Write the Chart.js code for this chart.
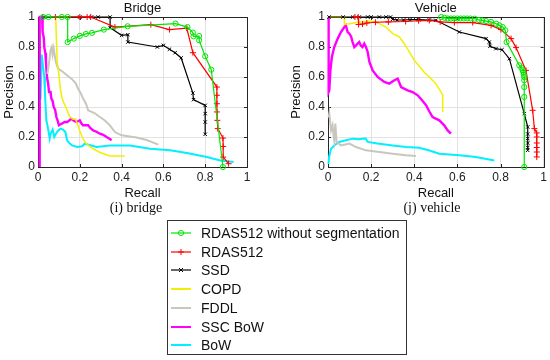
<!DOCTYPE html>
<html>
<head>
<meta charset="utf-8">
<script src="https://cdn.jsdelivr.net/npm/chart.js@4.4.1/dist/chart.umd.min.js"></script>
<style>
  body { margin: 0; background: #fff; }
  #wrap { position: relative; width: 550px; height: 360px; overflow: hidden; font-family: "Liberation Sans", Arial, sans-serif; }
  canvas { position: absolute; top: 0; }
  .cap { position: absolute; top: 199px; height: 18px; line-height: 18px; text-align: center;
         font-family: "Liberation Serif", "DejaVu Serif", serif; font-size: 14px; color: #111; }
  #legend { position: absolute; left: 167px; top: 220px; width: 238px; height: 133px; border: 1px solid #333; background: #fff; }
  .row { position: absolute; left: 0; height: 18px; width: 238px; }
  .row svg { position: absolute; left: 2px; top: 4px; }
  .row span { position: absolute; left: 33px; top: 0; line-height: 18px; font-size: 14px; color: #111; white-space: nowrap; }
</style>
</head>
<body>
<div id="wrap">
  <canvas id="bridge" width="285" height="201" style="left:0px"></canvas>
  <canvas id="vehicle" width="263" height="201" style="left:287px"></canvas>
  <div class="cap" style="left:76px;width:120px">(i) bridge</div>
  <div class="cap" style="left:372px;width:120px">(j) vehicle</div>
  <div id="legend"></div>
</div>
<script>
// tick labels, shared by both panels
const tickLabels = ['0', '0.2', '0.4', '0.6', '0.8', '1'];

const seriesNames = ['RDAS512 without segmentation', 'RDAS512', 'SSD', 'COPD', 'FDDL', 'SSC BoW', 'BoW'];

// ---- Bridge: [recall, precision] ----
const bridgeRdasNoSeg = [[0.024,1],[0.05,1],[0.114,1],[0.142,1],[0.142,0.833],[0.171,0.856],[0.2,0.874],[0.229,0.887],[0.258,0.894],[0.315,0.916],[0.429,0.938],[0.658,0.956],[0.715,0.933],[0.741,0.896],[0.744,0.871],[0.771,0.873],[0.771,0.845],[0.8,0.738],[0.829,0.649],[0.885,0.0]];
const bridgeRdas = [[0.083,1],[0.2,1],[0.235,1],[0.252,1],[0.368,0.933],[0.54,0.949],[0.629,0.916],[0.712,0.925],[0.741,0.762],[0.856,0.533],[0.856,0.478],[0.856,0.422],[0.856,0.367],[0.858,0.311],[0.86,0.256],[0.885,0.193],[0.886,0.137],[0.886,0.066],[0.912,0.022]];
const bridgeSsd = [[0.03,1],[0.2,1],[0.256,1],[0.288,1],[0.345,1],[0.345,0.929],[0.4,0.878],[0.43,0.882],[0.43,0.833],[0.571,0.8],[0.6,0.811],[0.629,0.785],[0.656,0.762],[0.685,0.727],[0.741,0.493],[0.744,0.449],[0.8,0.411],[0.8,0.356],[0.8,0.3],[0.8,0.218]];
const bridgeCopd = [[0.085,1],[0.088,0.85],[0.092,0.7],[0.1,0.62],[0.107,0.52],[0.115,0.46],[0.123,0.43],[0.13,0.41],[0.139,0.38],[0.15,0.34],[0.165,0.32],[0.18,0.32],[0.19,0.28],[0.2,0.24],[0.212,0.2],[0.225,0.165],[0.245,0.14],[0.265,0.12],[0.3,0.095],[0.32,0.085],[0.345,0.073],[0.415,0.073]];
const bridgeFddl = [[0.045,0.62],[0.055,0.72],[0.06,0.78],[0.066,0.8],[0.07,0.75],[0.075,0.79],[0.085,0.7],[0.096,0.656],[0.12,0.633],[0.14,0.61],[0.16,0.589],[0.18,0.56],[0.192,0.522],[0.205,0.49],[0.216,0.456],[0.23,0.42],[0.24,0.378],[0.27,0.36],[0.296,0.333],[0.32,0.31],[0.344,0.278],[0.368,0.233],[0.4,0.211],[0.44,0.204],[0.472,0.196],[0.52,0.18],[0.576,0.149]];
const bridgeSscBow = [[0.008,0],[0.008,1],[0.02,1],[0.022,0.9],[0.028,0.86],[0.03,0.8],[0.035,0.76],[0.038,0.7],[0.043,0.6],[0.048,0.56],[0.053,0.5],[0.06,0.5],[0.064,0.456],[0.07,0.44],[0.075,0.4],[0.082,0.38],[0.088,0.333],[0.094,0.31],[0.1,0.278],[0.115,0.29],[0.128,0.3],[0.14,0.3],[0.16,0.322],[0.17,0.31],[0.184,0.3],[0.2,0.311],[0.208,0.29],[0.216,0.278],[0.24,0.278],[0.25,0.26],[0.264,0.244],[0.28,0.235],[0.296,0.222],[0.312,0.215],[0.328,0.2],[0.34,0.19],[0.352,0.178]];
const bridgeBow = [[0.012,0.45],[0.018,0.75],[0.022,0.7],[0.03,0.6],[0.033,0.5],[0.035,0.44],[0.04,0.31],[0.045,0.28],[0.05,0.24],[0.056,0.19],[0.06,0.22],[0.07,0.25],[0.078,0.2],[0.085,0.22],[0.095,0.24],[0.107,0.256],[0.12,0.25],[0.131,0.233],[0.139,0.178],[0.15,0.16],[0.163,0.144],[0.187,0.133],[0.211,0.138],[0.224,0.156],[0.25,0.145],[0.28,0.133],[0.344,0.144],[0.424,0.144],[0.44,0.144],[0.536,0.122],[0.632,0.111],[0.712,0.093],[0.808,0.067],[0.872,0.044],[0.936,0.033]];

// ---- Vehicle: [recall, precision] ----
const vehicleRdasNoSeg = [[0.525,1],[0.54,0.995],[0.555,0.99],[0.57,0.99],[0.585,0.99],[0.6,0.99],[0.615,0.99],[0.63,0.99],[0.645,0.99],[0.66,0.99],[0.68,0.989],[0.7,0.98],[0.715,0.977],[0.733,0.973],[0.756,0.967],[0.78,0.955],[0.795,0.944],[0.81,0.933],[0.822,0.911],[0.828,0.833],[0.887,0.678],[0.897,0.66],[0.903,0.645],[0.906,0.63],[0.908,0.615],[0.91,0.6],[0.91,0.578],[0.91,0.533],[0.91,0.467],[0.91,0.0]];
const vehicleRdas = [[0.125,1],[0.14,1],[0.142,0.95],[0.16,0.953],[0.18,0.96],[0.22,0.965],[0.28,0.967],[0.36,0.97],[0.42,0.975],[0.47,0.977],[0.52,0.967],[0.586,0.963],[0.671,0.963],[0.756,0.944],[0.802,0.916],[0.849,0.856],[0.872,0.796],[0.918,0.644],[0.949,0.378],[0.957,0.256],[0.968,0.227],[0.968,0.2],[0.968,0.16],[0.968,0.13],[0.968,0.1],[0.968,0.067]];
const vehicleSsd = [[0.005,1],[0.07,1],[0.114,1],[0.145,1],[0.184,1],[0.2,1],[0.238,1],[0.269,1],[0.29,1],[0.3,0.985],[0.32,0.98],[0.35,0.98],[0.38,0.982],[0.42,0.982],[0.47,0.98],[0.5,0.978],[0.609,0.9],[0.733,0.856],[0.748,0.833],[0.751,0.805],[0.779,0.789],[0.807,0.782],[0.841,0.722],[0.91,0.356],[0.926,0.267],[0.926,0.22],[0.926,0.19],[0.926,0.16],[0.926,0.13],[0.926,0.111]];
const vehicleCopd = [[0,1],[0.04,1],[0.076,1],[0.076,0.95],[0.1,0.955],[0.14,0.965],[0.19,0.972],[0.215,0.968],[0.238,0.956],[0.269,0.933],[0.3,0.889],[0.331,0.867],[0.354,0.822],[0.377,0.767],[0.4,0.711],[0.423,0.672],[0.447,0.63],[0.47,0.6],[0.5,0.556],[0.524,0.5],[0.532,0.478],[0.532,0.367]];
const vehicleFddl = [[0.003,0.33],[0.006,0.356],[0.01,0.3],[0.014,0.244],[0.021,0.278],[0.025,0.22],[0.029,0.178],[0.034,0.289],[0.04,0.167],[0.05,0.155],[0.06,0.144],[0.08,0.15],[0.099,0.156],[0.13,0.133],[0.176,0.111],[0.238,0.1],[0.3,0.089],[0.362,0.078],[0.408,0.073]];
const vehicleSscBow = [[0.003,1],[0.003,0.5],[0.006,0.51],[0.011,0.644],[0.018,0.733],[0.029,0.8],[0.045,0.856],[0.06,0.9],[0.076,0.933],[0.083,0.944],[0.091,0.9],[0.099,0.889],[0.107,0.87],[0.114,0.833],[0.122,0.8],[0.13,0.811],[0.137,0.822],[0.145,0.833],[0.152,0.81],[0.16,0.8],[0.168,0.822],[0.176,0.8],[0.184,0.767],[0.192,0.7],[0.207,0.644],[0.23,0.6],[0.261,0.567],[0.284,0.556],[0.308,0.578],[0.323,0.589],[0.339,0.533],[0.369,0.511],[0.392,0.5],[0.416,0.478],[0.439,0.44],[0.455,0.411],[0.47,0.37],[0.485,0.333],[0.516,0.311],[0.539,0.278],[0.555,0.244],[0.57,0.222]];
const vehicleBow = [[0.002,0.02],[0.005,0.067],[0.014,0.122],[0.029,0.144],[0.052,0.167],[0.083,0.178],[0.114,0.189],[0.14,0.185],[0.16,0.189],[0.175,0.19],[0.184,0.167],[0.23,0.156],[0.3,0.144],[0.362,0.133],[0.423,0.128],[0.47,0.11],[0.516,0.089],[0.609,0.078],[0.686,0.067],[0.771,0.044]];

// look of each series (same order as seriesNames)
const looks = [
  { color: '#00e600', width: 1.2, point: 'circle', radius: 2.6 },
  { color: '#ff0000', width: 1.2, point: 'cross', radius: 3 },
  { color: '#000000', width: 1.2, point: 'crossRot', radius: 2.4 },
  { color: '#f2f000', width: 1.5, point: false, radius: 0 },
  { color: '#c9c6bd', width: 2, point: false, radius: 0 },
  { color: '#ff00ff', width: 2.4, point: false, radius: 0 },
  { color: '#00f0ff', width: 2, point: false, radius: 0 }
];

Chart.defaults.font.family = '"Liberation Sans", Arial, sans-serif';
Chart.defaults.color = '#222';

function toXY(pairs) {
  return pairs.map(p => ({ x: p[0], y: p[1] }));
}

// black box around the axes plus small inward ticks (matlab style)
const boxPlugin = {
  id: 'box',
  beforeDatasetsDraw(chart) {
    const { ctx, chartArea: a, scales } = chart;
    ctx.save();
    ctx.strokeStyle = '#262626';
    ctx.lineWidth = 1;
    ctx.strokeRect(Math.round(a.left) + 0.5, Math.round(a.top) + 0.5, Math.round(a.right - a.left), Math.round(a.bottom - a.top));
    ctx.beginPath();
    scales.x.ticks.forEach(t => {
      const px = Math.round(scales.x.getPixelForValue(t.value)) + 0.5;
      ctx.moveTo(px, a.bottom); ctx.lineTo(px, a.bottom - 3);
      ctx.moveTo(px, a.top); ctx.lineTo(px, a.top + 3);
    });
    scales.y.ticks.forEach(t => {
      const py = Math.round(scales.y.getPixelForValue(t.value)) + 0.5;
      ctx.moveTo(a.left, py); ctx.lineTo(a.left + 3, py);
      ctx.moveTo(a.right, py); ctx.lineTo(a.right - 3, py);
    });
    ctx.stroke();
    ctx.restore();
  }
};

function makePanel(id, title, series, yWidth, yTitlePad, padRight) {
  const datasets = series.map((s, i) => ({
    label: seriesNames[i],
    data: toXY(s),
    showLine: true,
    borderColor: looks[i].color,
    borderWidth: looks[i].width,
    pointStyle: looks[i].point,
    pointRadius: looks[i].radius,
    pointBorderColor: looks[i].color,
    pointBackgroundColor: 'rgba(0,0,0,0)',
    pointBorderWidth: 1,
    tension: 0,
    clip: false
  }));
  return new Chart(document.getElementById(id), {
    type: 'scatter',
    data: { datasets: datasets },
    plugins: [boxPlugin],
    options: {
      responsive: false,
      animation: false,
      devicePixelRatio: 1,
      layout: { padding: { top: 0, right: padRight, left: 0, bottom: 0 } },
      plugins: {
        legend: { display: false },
        tooltip: { enabled: false },
        title: {
          display: true, text: title, fullSize: false, color: '#111',
          font: { size: 13, weight: 'normal' }, padding: { top: 1, bottom: 0.4 }
        }
      },
      scales: {
        x: {
          type: 'linear', min: 0, max: 1,
          ticks: { stepSize: 0.2, padding: 3, font: { size: 12 }, callback: (v, i) => tickLabels[i] },
          grid: { color: '#e2e2e2', drawTicks: false },
          border: { display: false },
          title: { display: true, text: 'Recall', font: { size: 13 }, color: '#111', padding: { top: 0, bottom: 0 } },
          afterFit(s) { s.height = 34; }
        },
        y: {
          type: 'linear', min: 0, max: 1,
          ticks: { stepSize: 0.2, padding: 3, font: { size: 12 }, callback: (v, i) => tickLabels[i] },
          grid: { color: '#e2e2e2', drawTicks: false },
          border: { display: false },
          title: { display: true, text: 'Precision', font: { size: 13 }, color: '#111', padding: { top: yTitlePad, bottom: 0 } },
          afterFit(s) { s.width = yWidth; }
        }
      }
    }
  });
}

makePanel('bridge', 'Bridge',
  [bridgeRdasNoSeg, bridgeRdas, bridgeSsd, bridgeCopd, bridgeFddl, bridgeSscBow, bridgeBow], 38, 1.5, 38);
makePanel('vehicle', 'Vehicle',
  [vehicleRdasNoSeg, vehicleRdas, vehicleSsd, vehicleCopd, vehicleFddl, vehicleSscBow, vehicleBow], 41, 2, 6);

// legend box
const legend = document.getElementById('legend');
seriesNames.forEach((name, i) => {
  const lk = looks[i];
  let mark = '';
  if (lk.point === 'circle') mark = `<circle cx="11" cy="5" r="2.6" fill="none" stroke="${lk.color}" stroke-width="1"/>`;
  if (lk.point === 'cross') mark = `<path d="M11 2V8M8 5H14" stroke="${lk.color}" stroke-width="1"/>`;
  if (lk.point === 'crossRot') mark = `<path d="M9 3L13 7M13 3L9 7" stroke="${lk.color}" stroke-width="1"/>`;
  const row = document.createElement('div');
  row.className = 'row';
  row.style.top = (3 + i * 18.7) + 'px';
  row.innerHTML = `<svg width="22" height="10"><line x1="1" y1="5" x2="21" y2="5" stroke="${lk.color}" stroke-width="${lk.point ? 1.2 : 2}"/>${mark}</svg><span>${name}</span>`;
  legend.appendChild(row);
});
</script>
</body>
</html>
